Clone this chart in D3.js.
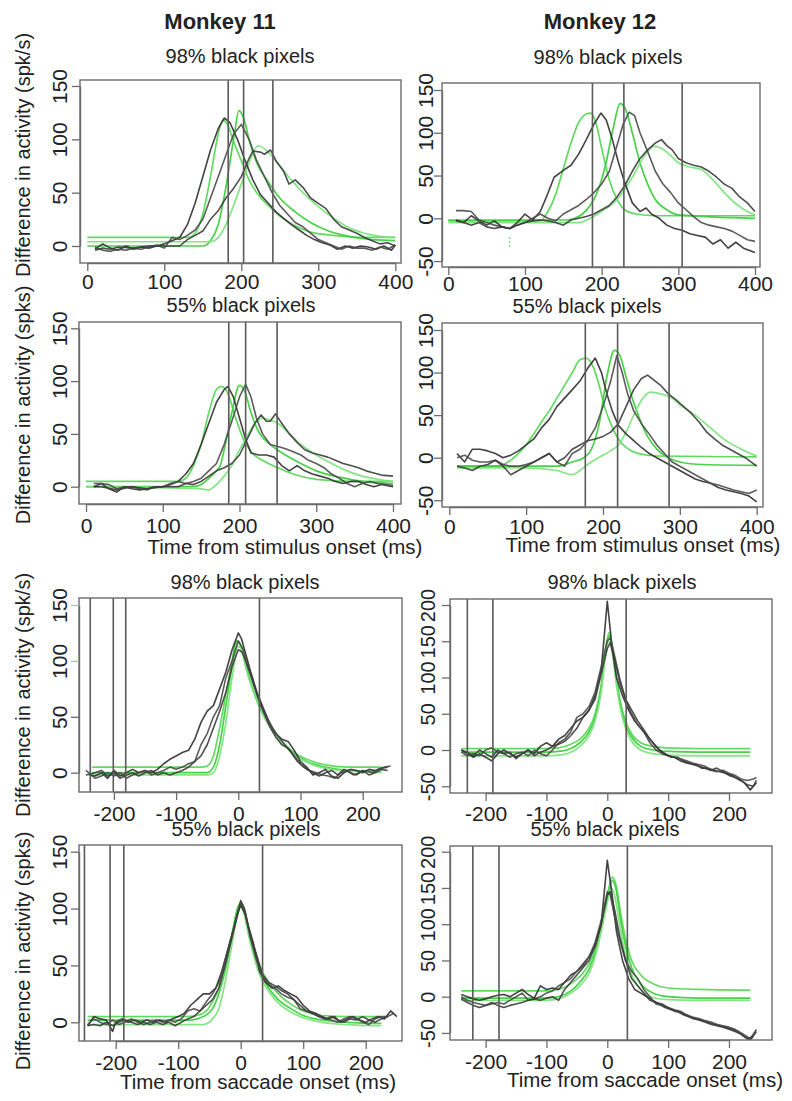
<!DOCTYPE html>
<html><head><meta charset="utf-8">
<script src="https://cdn.jsdelivr.net/npm/d3@7"></script>
<style>
html,body{margin:0;padding:0;background:#fff;}
svg{display:block;}
text{font-family:"Liberation Sans",Arial,Helvetica,sans-serif;fill:#222;}
</style></head>
<body>
<svg id="chart" width="792" height="1101"></svg>
<script>
// ---------- text / ticks ----------
const monkeyTitles = ["Monkey 11", "Monkey 12"];
const panelTitles = ["98% black pixels", "55% black pixels"];
const yLabels = ["Difference in activity (spk/s)", "Difference in activity (spks)"];
const xLabels = ["Time from stimulus onset (ms)", "Time from saccade onset (ms)"];
const xTicksStim = [0, 100, 200, 300, 400];
const xTicksSacc = [-200, -100, 0, 100, 200];
const yTicksM11 = [0, 50, 100, 150];
const yTicksM12Stim = [-50, 0, 50, 100, 150];
const yTicksM12Sacc = [-50, 0, 50, 100, 150, 200];

// ---------- vertical marker lines (ms) ----------
const vM11Stim98 = [183, 203, 241];
const vM12Stim98 = [188, 229, 305];
const vM11Stim55 = [186, 208, 249];
const vM12Stim55 = [177, 219, 286];
const vM11Sacc98 = [-238, -201, -181, 34];
const vM12Sacc98 = [-230, -188, 31];
const vM11Sacc55 = [-250, -209, -187, 35];
const vM12Sacc55 = [-221, -178, 33];

// ---------- Monkey 11, stimulus, 98% ----------
const m11Stim98Dark1 = [[10,-3],[20,2],[30,-2],[40,-4],[50,0],[60,-3],[70,-1],[80,-2],[90,0],[100,2],[110,5],[120,8],[130,20],[140,40],[150,65],[160,90],[170,110],[178,120],[185,116],[195,100],[205,80],[215,62],[225,48],[235,40],[245,32],[255,26],[265,20],[275,15],[285,10],[295,6],[305,3],[315,1],[325,-3],[335,0],[345,-2],[355,0],[365,-1],[375,-3],[385,0],[395,-4],[400,1]];
const m11Stim98Dark2 = [[10,-1],[20,-4],[30,-5],[40,-3],[50,-4],[60,-2],[70,-3],[80,-1],[90,1],[100,-2],[110,8],[120,6],[130,10],[140,15],[150,25],[160,45],[170,65],[180,85],[190,105],[200,114],[210,100],[220,80],[230,65],[240,50],[250,38],[260,30],[270,22],[280,18],[290,12],[300,6],[310,3],[320,0],[330,-3],[340,0],[350,-2],[360,-2],[370,-4],[380,-1],[390,-3],[400,1]];
const m11Stim98Dark3 = [[10,-4],[20,-2],[30,-3],[40,-1],[60,-2],[80,0],[100,0],[120,0],[130,6],[140,10],[150,14],[160,25],[170,33],[180,45],[190,54],[200,65],[210,82],[215,89],[225,88],[230,86],[238,90],[245,80],[255,70],[262,58],[270,62],[280,55],[290,45],[300,40],[310,35],[320,25],[330,18],[340,15],[350,12],[360,8],[370,5],[380,2],[390,3],[400,0]];
const m11Stim98Fit1 = [[0,8],[130,8],[140,12],[150,30],[160,65],[170,105],[176,118],[182,114],[190,98],[200,80],[210,62],[220,50],[235,38],[250,28],[270,19],[290,13],[320,10],[360,8],[400,8]];
const m11Stim98Fit2 = [[0,0],[150,0],[160,5],[170,20],[180,55],[190,100],[197,127],[203,120],[210,100],[220,78],[235,60],[250,45],[270,32],[290,22],[310,15],[340,9],[370,6],[400,5]];
const m11Stim98Fit3 = [[0,4],[160,4],[170,8],[180,20],[190,38],[200,58],[210,78],[222,94],[235,88],[250,75],[265,62],[280,50],[300,37],[320,26],[340,17],[360,12],[380,9],[400,8]];

// ---------- Monkey 12, stimulus, 98% ----------
const m12Stim98Dark1 = [[10,-2],[20,-5],[30,3],[40,-3],[50,-8],[60,-3],[70,-10],[80,-12],[90,-5],[100,5],[110,-2],[120,8],[128,25],[138,48],[150,56],[160,62],[170,75],[180,92],[190,110],[199,123],[206,115],[214,92],[222,65],[230,42],[240,18],[250,8],[258,12],[265,5],[275,0],[285,-8],[295,-12],[305,-14],[315,-18],[325,-20],[335,-22],[345,-30],[355,-25],[365,-35],[375,-28],[385,-35],[400,-40]];
const m12Stim98Dark2 = [[10,9],[20,9],[30,8],[40,-2],[50,-5],[60,-8],[70,-10],[80,-12],[90,-8],[100,-5],[110,0],[120,5],[130,0],[140,-3],[150,5],[160,10],[170,15],[180,22],[190,30],[200,40],[210,55],[220,85],[228,110],[236,124],[243,120],[250,100],[260,78],[270,55],[280,40],[290,30],[300,18],[310,10],[320,2],[330,-5],[340,-8],[350,-10],[360,-12],[370,-15],[380,-20],[390,-25],[400,-27]];
const m12Stim98Dark3 = [[10,-3],[20,-5],[30,-8],[40,-5],[50,-10],[60,-12],[70,-10],[80,-12],[90,-8],[100,-5],[110,-3],[120,-2],[130,-3],[140,-5],[150,-8],[160,-2],[170,0],[180,2],[190,5],[200,10],[210,15],[220,25],[230,38],[240,55],[250,70],[260,80],[270,88],[278,92],[285,85],[292,80],[300,70],[310,65],[320,62],[330,60],[340,55],[350,48],[360,40],[370,35],[380,25],[390,18],[400,8]];
const m12Stim98Fit1 = [[0,-3],[120,-3],[130,8],[140,28],[150,58],[160,88],[170,112],[180,122],[186,123],[193,110],[200,82],[210,45],[220,22],[230,10],[245,5],[270,3],[400,3]];
const m12Stim98Fit2 = [[0,-2],[155,-2],[165,0],[175,5],[185,15],[195,32],[205,62],[215,105],[224,134],[231,128],[240,100],[250,65],[260,40],[270,22],[285,10],[300,4],[400,0]];
const m12Stim98Fit3 = [[0,-5],[170,-5],[185,0],[200,8],[220,22],[240,48],[255,72],[268,84],[278,82],[288,75],[300,65],[315,60],[330,57],[345,45],[360,30],[375,17],[390,8],[400,4]];
const m12Stim98Stray = [[80,-22],[80,-35]];

// ---------- Monkey 11, stimulus, 55% ----------
const m11Stim55Dark1 = [[10,0],[20,3],[30,-2],[40,-5],[50,0],[60,-2],[70,-3],[80,-2],[90,0],[100,0],[110,2],[120,5],[130,12],[140,22],[150,40],[160,60],[170,80],[180,92],[185,95],[192,85],[200,65],[208,45],[215,32],[225,30],[235,30],[245,28],[255,20],[265,15],[275,20],[285,15],[295,12],[305,10],[315,8],[325,5],[335,3],[345,5],[355,5],[365,2],[375,0],[385,2],[400,0]];
const m11Stim55Dark2 = [[10,3],[20,3],[30,2],[40,-2],[50,0],[60,0],[70,-2],[80,-3],[90,0],[100,0],[110,3],[120,5],[130,3],[140,5],[150,8],[160,15],[170,22],[180,40],[190,62],[200,85],[208,97],[215,85],[222,65],[230,50],[240,40],[250,38],[260,36],[270,33],[280,30],[290,25],[300,22],[310,18],[320,12],[330,8],[340,3],[350,0],[360,3],[370,5],[380,3],[390,2],[400,1]];
const m11Stim55Dark3 = [[10,0],[20,0],[40,-3],[60,0],[80,-2],[100,0],[120,0],[130,3],[140,2],[150,5],[160,10],[170,15],[180,18],[190,22],[200,30],[210,45],[220,60],[228,68],[235,62],[240,62],[247,69],[255,60],[265,50],[275,42],[285,35],[295,32],[305,30],[315,28],[325,25],[335,22],[345,20],[355,18],[365,15],[375,13],[385,11],[400,10]];
const m11Stim55Fit1 = [[0,5],[120,5],[130,8],[140,20],[150,40],[160,70],[170,92],[177,95],[185,88],[195,65],[205,45],[215,33],[230,25],[250,18],[270,12],[300,7],[350,5],[400,5]];
const m11Stim55Fit2 = [[0,0],[140,0],[150,2],[160,8],[170,15],[175,20],[180,35],[190,70],[200,96],[207,90],[215,70],[225,52],[240,40],[260,30],[280,22],[300,15],[330,9],[360,5],[400,3]];
const m11Stim55Fit3 = [[0,0],[150,-2],[160,-3],[170,2],[180,10],[190,20],[200,35],[210,48],[220,60],[230,65],[240,63],[250,60],[265,50],[280,40],[300,30],[320,22],[340,15],[360,10],[380,7],[400,5]];

// ---------- Monkey 12, stimulus, 55% ----------
const m12Stim55Dark1 = [[10,5],[20,-5],[30,10],[40,10],[50,8],[60,5],[70,0],[80,3],[90,8],[100,15],[110,22],[120,35],[130,45],[140,60],[150,70],[160,80],[170,90],[180,105],[190,117],[198,100],[205,75],[212,55],[220,38],[230,28],[240,20],[250,12],[260,5],[270,0],[280,-5],[290,-10],[300,-15],[310,-20],[320,-25],[330,-28],[340,-30],[350,-35],[360,-38],[370,-40],[380,-42],[390,-45],[400,-52]];
const m12Stim55Dark2 = [[10,0],[20,3],[30,-3],[40,-5],[50,-5],[60,-3],[70,-8],[80,-10],[90,-10],[100,-8],[110,-5],[120,0],[130,5],[140,-5],[150,-10],[160,5],[170,10],[180,20],[190,35],[200,60],[210,90],[218,120],[225,100],[232,75],[240,55],[250,40],[260,28],[270,15],[280,5],[290,-5],[300,-10],[310,-15],[320,-20],[330,-25],[340,-30],[350,-32],[360,-35],[370,-38],[380,-40],[390,-42],[400,-38]];
const m12Stim55Dark3 = [[10,-10],[20,-12],[30,-15],[40,-10],[50,-8],[60,-3],[70,-10],[80,-20],[90,-15],[100,-10],[110,-5],[120,0],[130,5],[140,-5],[150,0],[160,10],[170,15],[180,20],[190,22],[200,25],[210,30],[220,40],[230,60],[240,80],[250,93],[258,97],[265,92],[275,85],[285,75],[295,68],[305,60],[315,52],[325,42],[335,30],[345,22],[355,15],[365,10],[375,5],[385,0],[400,-10]];
const m12Stim55Fit1 = [[10,-10],[60,-10],[70,-8],[80,-3],[90,5],[100,15],[110,28],[120,42],[130,55],[140,70],[150,85],[160,100],[170,115],[178,117],[188,105],[195,85],[202,60],[210,40],[220,22],[230,12],[245,5],[270,2],[400,1]];
const m12Stim55Fit2 = [[10,-10],[140,-10],[160,-5],[175,0],[185,10],[195,40],[205,95],[215,126],[222,120],[230,95],[238,70],[248,45],[258,25],[270,10],[285,0],[300,-5],[330,-8],[400,-9]];
const m12Stim55Fit3 = [[10,-12],[100,-12],[140,-15],[160,-20],[170,-15],[180,-8],[190,-2],[200,3],[210,8],[220,15],[230,30],[240,50],[252,70],[262,77],[275,75],[290,70],[300,62],[320,50],[340,35],[360,20],[380,10],[400,2]];

// ---------- Monkey 11, saccade, 98% ----------
const m11Sacc98Dark1 = [[-240,-2],[-230,-3],[-220,0],[-210,-5],[-200,2],[-190,-3],[-180,0],[-170,3],[-160,0],[-150,2],[-140,0],[-130,3],[-120,8],[-110,12],[-100,15],[-90,18],[-80,20],[-70,30],[-60,45],[-50,55],[-40,60],[-30,75],[-20,90],[-10,110],[0,125],[5,120],[10,110],[20,90],[30,72],[40,58],[50,45],[60,35],[70,30],[80,28],[90,20],[100,10],[110,5],[120,-2],[130,0],[140,3],[150,-3],[160,-5],[170,0],[180,3],[190,2],[200,0],[210,3],[220,2],[230,4],[240,5]];
const m11Sacc98Dark2 = [[-245,2],[-230,-5],[-220,-3],[-210,0],[-200,-3],[-190,0],[-180,-5],[-170,-2],[-160,0],[-150,2],[-140,-2],[-130,0],[-120,2],[-110,5],[-100,3],[-90,5],[-80,8],[-70,10],[-60,25],[-50,35],[-40,50],[-30,60],[-20,85],[-10,100],[0,118],[8,110],[15,95],[25,78],[35,62],[45,50],[55,40],[65,32],[75,25],[85,18],[95,10],[105,5],[115,2],[125,0],[135,-2],[145,-3],[155,-5],[165,0],[175,2],[185,-2],[195,0],[205,2],[215,0],[225,3],[235,5],[245,6]];
const m11Sacc98Dark3 = [[-245,-2],[-230,0],[-220,2],[-210,-3],[-200,0],[-190,-5],[-180,-2],[-170,0],[-160,-3],[-150,0],[-140,2],[-130,-2],[-120,0],[-110,-2],[-100,0],[-90,2],[-80,5],[-70,10],[-60,15],[-50,25],[-40,40],[-30,55],[-20,72],[-10,95],[0,110],[6,108],[12,100],[20,88],[30,70],[40,55],[50,42],[60,32],[70,25],[80,22],[90,15],[100,8],[110,3],[120,0],[130,-3],[140,0],[150,2],[160,-2],[170,3],[180,0],[190,-2],[200,2],[210,-2],[220,0],[230,3],[240,2]];
const m11Sacc98Fit1 = [[-235,5],[-60,5],[-50,6],[-40,15],[-30,40],[-20,70],[-10,100],[-5,115],[0,117],[5,112],[15,90],[25,72],[40,52],[55,38],[70,28],[90,18],[110,12],[140,7],[180,5],[230,5]];
const m11Sacc98Fit2 = [[-235,0],[-50,0],[-40,5],[-30,25],[-20,60],[-10,95],[-3,118],[3,115],[12,95],[25,72],[40,52],[55,38],[70,27],[90,17],[110,10],[140,5],[180,2],[230,1]];
const m11Sacc98Fit3 = [[-235,-2],[-50,-2],[-40,0],[-30,15],[-20,45],[-10,85],[0,113],[5,110],[15,88],[28,68],[42,50],[58,35],[75,24],[95,14],[120,7],[150,3],[190,1],[230,0]];

// ---------- Monkey 12, saccade, 98% ----------
const m12Sacc98Dark1 = [[-240,0],[-230,-5],[-220,-10],[-210,-5],[-200,-10],[-190,-15],[-180,-5],[-170,0],[-160,-5],[-150,-10],[-140,-5],[-130,0],[-120,-5],[-110,5],[-100,10],[-90,5],[-80,15],[-70,20],[-60,30],[-50,40],[-40,45],[-30,55],[-20,75],[-10,110],[0,205],[8,140],[15,100],[25,75],[35,55],[45,40],[55,30],[65,20],[75,10],[85,0],[95,-5],[105,-10],[115,-10],[125,-15],[135,-18],[145,-20],[155,-25],[165,-25],[175,-28],[185,-30],[195,-32],[205,-35],[215,-40],[225,-45],[235,-55],[245,-45]];
const m12Sacc98Dark2 = [[-240,-3],[-230,-8],[-220,-5],[-210,-8],[-200,0],[-190,3],[-180,-3],[-170,-5],[-160,-10],[-150,-5],[-140,-3],[-130,-8],[-120,0],[-110,-5],[-100,-8],[-90,0],[-80,10],[-70,15],[-60,25],[-50,45],[-40,50],[-30,60],[-20,80],[-10,115],[0,150],[5,155],[12,130],[20,100],[30,70],[40,50],[50,35],[60,25],[70,10],[80,0],[90,-5],[100,-8],[110,-10],[120,-12],[130,-15],[140,-18],[150,-20],[160,-22],[170,-28],[180,-30],[190,-28],[200,-32],[210,-35],[220,-40],[230,-42],[240,-40],[245,-38]];
const m12Sacc98Dark3 = [[-240,0],[-230,-3],[-220,-8],[-210,0],[-200,-5],[-190,-10],[-180,0],[-170,-5],[-160,-3],[-150,-12],[-140,-5],[-130,0],[-120,-8],[-110,-3],[-100,0],[-90,5],[-80,8],[-70,12],[-60,20],[-50,30],[-40,45],[-30,55],[-20,70],[-10,105],[0,140],[5,148],[12,125],[20,95],[30,70],[40,55],[50,40],[60,28],[70,15],[80,5],[90,-3],[100,-8],[110,-10],[120,-15],[130,-18],[140,-20],[150,-22],[160,-25],[170,-28],[180,-25],[190,-30],[200,-35],[210,-38],[220,-42],[230,-48],[240,-50],[245,-42]];
const m12Sacc98Fit1 = [[-240,2],[-100,2],[-80,3],[-60,8],[-45,15],[-30,30],[-20,50],[-10,90],[-3,140],[3,162],[8,145],[15,100],[22,65],[30,40],[40,22],[55,10],[75,5],[100,3],[150,2],[235,2]];
const m12Sacc98Fit2 = [[-240,-3],[-100,-3],[-80,-2],[-60,2],[-45,10],[-30,25],[-20,45],[-10,85],[-3,135],[3,158],[8,140],[15,95],[22,60],[30,35],[40,18],[55,5],[75,0],[100,-2],[150,-3],[235,-3]];
const m12Sacc98Fit3 = [[-240,-8],[-100,-8],[-80,-7],[-60,-3],[-45,5],[-30,20],[-20,40],[-10,80],[-3,130],[3,150],[8,135],[15,90],[22,55],[30,30],[40,12],[55,0],[75,-5],[100,-7],[150,-8],[235,-8]];

// ---------- Monkey 11, saccade, 55% ----------
const m11Sacc55Dark1 = [[-245,-3],[-235,5],[-225,3],[-215,2],[-205,-8],[-200,0],[-190,3],[-180,0],[-170,2],[-160,0],[-150,2],[-140,0],[-130,2],[-120,0],[-110,3],[-100,5],[-90,8],[-80,15],[-70,20],[-60,25],[-50,25],[-40,30],[-30,45],[-20,65],[-10,85],[0,107],[6,100],[12,85],[20,70],[30,45],[40,35],[50,30],[60,32],[70,28],[80,25],[90,22],[100,15],[110,10],[120,8],[130,5],[140,3],[150,5],[160,0],[170,3],[180,5],[190,2],[200,0],[210,3],[220,5],[230,3],[240,10],[250,5]];
const m11Sacc55Dark2 = [[-245,-2],[-235,3],[-225,0],[-215,-2],[-205,2],[-195,-2],[-185,0],[-175,3],[-165,0],[-155,-2],[-145,0],[-135,2],[-125,0],[-115,2],[-105,0],[-95,3],[-85,10],[-75,12],[-65,10],[-55,18],[-45,25],[-35,35],[-25,55],[-15,75],[-5,95],[0,105],[8,95],[15,75],[25,55],[35,40],[45,33],[55,30],[65,25],[75,22],[85,20],[95,12],[105,10],[115,8],[125,5],[135,3],[145,2],[155,0],[165,3],[175,5],[185,3],[195,0],[205,-2],[215,3],[225,5],[235,5],[245,8]];
const m11Sacc55Dark3 = [[-245,-3],[-235,-2],[-225,-3],[-215,0],[-205,-3],[-195,0],[-185,2],[-175,0],[-165,-2],[-155,0],[-145,-2],[-135,0],[-125,-2],[-115,0],[-105,-3],[-95,0],[-85,3],[-75,5],[-65,10],[-55,15],[-45,20],[-35,30],[-25,50],[-15,72],[-5,95],[0,103],[7,95],[15,78],[25,60],[35,42],[45,35],[55,32],[65,28],[75,25],[85,20],[95,15],[105,10],[115,8],[125,5],[135,3],[145,5],[155,2],[165,0],[175,3],[185,2],[195,5],[205,2],[215,0],[225,3],[235,5]];
const m11Sacc55Fit1 = [[-245,5],[-90,5],[-70,6],[-55,10],[-45,18],[-35,30],[-25,50],[-15,75],[-5,100],[0,104],[5,100],[12,85],[20,68],[30,50],[45,35],[60,25],[80,16],[100,10],[130,6],[170,5],[225,5]];
const m11Sacc55Fit2 = [[-245,2],[-80,2],[-60,5],[-45,12],[-35,25],[-25,45],[-15,72],[-5,100],[0,105],[5,98],[12,80],[20,62],[30,45],[45,30],[60,20],[80,12],[100,6],[130,2],[170,0],[225,-1]];
const m11Sacc55Fit3 = [[-245,-2],[-60,-2],[-45,3],[-35,12],[-25,35],[-15,65],[-5,95],[0,103],[5,96],[12,78],[20,60],[30,42],[45,27],[60,17],[80,9],[100,4],[130,0],[170,-2],[225,-3]];

// ---------- Monkey 12, saccade, 55% ----------
const m12Sacc55Dark1 = [[-240,3],[-230,0],[-220,-3],[-210,-5],[-200,-3],[-190,0],[-180,2],[-170,3],[-160,0],[-150,5],[-140,10],[-130,3],[-120,-2],[-110,15],[-100,10],[-90,12],[-80,10],[-70,20],[-60,30],[-50,35],[-40,45],[-30,55],[-20,70],[-10,100],[0,188],[8,140],[15,90],[25,50],[35,25],[45,10],[55,5],[65,0],[75,-5],[85,-10],[95,-15],[105,-18],[115,-20],[125,-25],[135,-28],[145,-30],[155,-32],[165,-35],[175,-38],[185,-40],[195,-42],[205,-45],[215,-48],[225,-55],[235,-60],[245,-48]];
const m12Sacc55Dark2 = [[-240,0],[-230,-5],[-220,-8],[-210,-10],[-200,-12],[-190,-10],[-180,-8],[-170,-10],[-160,-5],[-150,0],[-140,5],[-130,-5],[-120,-3],[-110,0],[-100,5],[-90,8],[-80,15],[-70,20],[-60,25],[-50,35],[-40,42],[-30,55],[-20,75],[-10,105],[0,145],[5,140],[12,110],[20,80],[30,50],[40,35],[50,25],[60,10],[70,0],[80,-10],[90,-12],[100,-15],[110,-20],[120,-22],[130,-25],[140,-28],[150,-30],[160,-33],[170,-35],[180,-38],[190,-40],[200,-42],[210,-45],[220,-50],[230,-55],[235,-58],[245,-45]];
const m12Sacc55Dark3 = [[-240,-3],[-230,-8],[-220,-12],[-210,-15],[-200,-12],[-190,-8],[-180,-12],[-170,-15],[-160,-12],[-150,-10],[-140,-8],[-130,-5],[-120,-3],[-110,-5],[-100,-2],[-90,0],[-80,-5],[-70,10],[-60,20],[-50,30],[-40,40],[-30,50],[-20,70],[-10,100],[0,140],[5,145],[12,120],[20,85],[30,50],[40,25],[50,15],[60,5],[70,-5],[80,-8],[90,-10],[100,-15],[110,-18],[120,-20],[130,-25],[140,-30],[150,-32],[160,-35],[170,-38],[180,-40],[190,-42],[200,-45],[210,-48],[220,-52],[230,-58],[240,-55]];
const m12Sacc55Fit1 = [[-240,8],[-100,8],[-80,10],[-60,18],[-45,28],[-30,45],[-20,65],[-10,100],[0,140],[8,165],[14,155],[22,115],[30,80],[40,50],[55,30],[75,18],[100,12],[150,10],[235,9]];
const m12Sacc55Fit2 = [[-240,-2],[-100,-2],[-80,0],[-60,8],[-45,20],[-30,38],[-20,60],[-10,95],[0,135],[8,160],[14,150],[22,105],[30,70],[40,40],[55,18],[75,5],[100,0],[150,-2],[235,-2]];
const m12Sacc55Fit3 = [[-240,-5],[-100,-5],[-80,-3],[-60,5],[-45,15],[-30,32],[-20,55],[-10,90],[0,130],[6,150],[12,140],[20,100],[28,65],[38,35],[50,15],[70,0],[100,-4],[150,-5],[235,-5]];

// ---------- layout (pixel geometry of each panel) ----------
const panels = [
  {box:[80,80,401,263],  xr:[0,87.3,400,395.3], yr:[0,246,150,86],   xt:xTicksStim, yt:yTicksM11,     v:vM11Stim98, dark:[m11Stim98Dark1,m11Stim98Dark2,m11Stim98Dark3], fit:[m11Stim98Fit1,m11Stim98Fit2,m11Stim98Fit3], title:panelTitles[0], tx:240, ty:63, xlY:289, ylX:67, yfs:21},
  {box:[442,83,760,267], xr:[0,448.3,400,755],  yr:[0,218.3,150,90], xt:xTicksStim, yt:yTicksM12Stim, v:vM12Stim98, dark:[m12Stim98Dark1,m12Stim98Dark2,m12Stim98Dark3], fit:[m12Stim98Fit1,m12Stim98Fit2,m12Stim98Fit3], title:panelTitles[0], tx:608, ty:64, xlY:291, ylX:433, yfs:21, stray:m12Stim98Stray},
  {box:[79,322,401,504], xr:[0,86,400,393],     yr:[0,486.7,150,328.3], xt:xTicksStim, yt:yTicksM11,   v:vM11Stim55, dark:[m11Stim55Dark1,m11Stim55Dark2,m11Stim55Dark3], fit:[m11Stim55Fit1,m11Stim55Fit2,m11Stim55Fit3], title:panelTitles[1], tx:241, ty:312, xlY:533, ylX:67, yfs:21, xlab:xLabels[0], xlabX:285, xlabY:554},
  {box:[442,323,763,507],xr:[0,449.3,400,756.7],yr:[0,457.7,150,330], xt:xTicksStim, yt:yTicksM12Stim, v:vM12Stim55, dark:[m12Stim55Dark1,m12Stim55Dark2,m12Stim55Dark3], fit:[m12Stim55Fit1,m12Stim55Fit2,m12Stim55Fit3], title:panelTitles[1], tx:587, ty:313, xlY:534, ylX:433, yfs:21, xlab:xLabels[0], xlabX:643, xlabY:552},
  {box:[79,598,402,792], xr:[0,238.3,200,362.7],yr:[0,772.7,150,605], xt:xTicksSacc, yt:yTicksM11,     v:vM11Sacc98, dark:[m11Sacc98Dark1,m11Sacc98Dark2,m11Sacc98Dark3], fit:[m11Sacc98Fit1,m11Sacc98Fit2,m11Sacc98Fit3], title:panelTitles[0], tx:245, ty:589, xlY:821, ylX:67, yfs:21, greenTicks:[100,150]},
  {box:[450,599,772,793],xr:[0,607.3,200,729],  yr:[0,750,200,605],   xt:xTicksSacc, yt:yTicksM12Sacc, v:vM12Sacc98, dark:[m12Sacc98Dark1,m12Sacc98Dark2,m12Sacc98Dark3], fit:[m12Sacc98Fit1,m12Sacc98Fit2,m12Sacc98Fit3], title:panelTitles[0], tx:622, ty:589, xlY:821, ylX:435, yfs:20},
  {box:[79,845,402,1041],xr:[0,240.7,200,365.7],yr:[0,1022.3,150,851.7], xt:xTicksSacc, yt:yTicksM11,  v:vM11Sacc55, dark:[m11Sacc55Dark1,m11Sacc55Dark2,m11Sacc55Dark3], fit:[m11Sacc55Fit1,m11Sacc55Fit2,m11Sacc55Fit3], title:panelTitles[1], tx:246, ty:836, xlY:1070, ylX:67, yfs:21, xlab:xLabels[1], xlabX:258, xlabY:1089},
  {box:[450,846,772,1040],xr:[0,607.3,200,729], yr:[0,996.7,200,851.7], xt:xTicksSacc, yt:yTicksM12Sacc, v:vM12Sacc55, dark:[m12Sacc55Dark1,m12Sacc55Dark2,m12Sacc55Dark3], fit:[m12Sacc55Fit1,m12Sacc55Fit2,m12Sacc55Fit3], title:panelTitles[1], tx:605, ty:836, xlY:1069, ylX:435, yfs:20, xlab:xLabels[1], xlabX:645, xlabY:1087}
];

const svg = d3.select("#chart");
const darkColors = ["#2f2f2f", "#4a4a4a", "#3c3c3c"];
const fitColors = ["#5ad85a", "#3fcf3f", "#7ee47e"];
const frameColor = "#6b6b6b";
const fmt = d => String(d);   // R style hyphen-minus

panels.forEach((p, i) => {
  const [L, T, R, B] = p.box;
  const xs0 = d3.scaleLinear().domain([p.xr[0], p.xr[2]]).range([p.xr[1], p.xr[3]]);
  const ys0 = d3.scaleLinear().domain([p.yr[0], p.yr[2]]).range([p.yr[1], p.yr[3]]);
  const xExt = d3.extent(p.xt), yExt = d3.extent(p.yt);
  const x = d3.scaleLinear().domain(xExt).range(xExt.map(xs0));
  const y = d3.scaleLinear().domain(yExt).range(yExt.map(ys0));

  const g = svg.append("g");
  const clipId = "clip" + i;
  svg.append("clipPath").attr("id", clipId).append("rect")
    .attr("x", L).attr("y", T).attr("width", R - L).attr("height", B - T);

  const plot = g.append("g").attr("clip-path", `url(#${clipId})`);

  // fitted curves (green)
  const fitLine = d3.line().x(d => x(d[0])).y(d => y(d[1])).curve(d3.curveMonotoneX);
  p.fit.forEach((s, k) => {
    plot.append("path").attr("d", fitLine(s)).attr("fill", "none")
      .attr("stroke", fitColors[k]).attr("stroke-width", 1.7).attr("stroke-opacity", 0.95);
  });
  if (p.stray) {
    plot.append("path").attr("d", d3.line().x(d => x(d[0])).y(d => y(d[1]))(p.stray))
      .attr("stroke", "#8fe08f").attr("stroke-width", 1.5).attr("stroke-dasharray", "2,2").attr("fill", "none");
  }
  // data curves (dark)
  const dataLine = d3.line().x(d => x(d[0])).y(d => y(d[1]));
  p.dark.forEach((s, k) => {
    plot.append("path").attr("d", dataLine(s)).attr("fill", "none")
      .attr("stroke", darkColors[k]).attr("stroke-width", 1.6).attr("stroke-linejoin", "round").attr("stroke-opacity", 0.9);
  });

  // vertical marker lines
  g.selectAll(null).data(p.v).enter().append("line")
    .attr("x1", d => x(d)).attr("x2", d => x(d)).attr("y1", T).attr("y2", B)
    .attr("stroke", "#5a5a5a").attr("stroke-width", 1.6);

  // frame
  g.append("rect").attr("x", L).attr("y", T).attr("width", R - L).attr("height", B - T)
    .attr("fill", "none").attr("stroke", frameColor).attr("stroke-width", 1.4);

  // x axis
  const gx = g.append("g").attr("transform", `translate(0,${B})`)
    .call(d3.axisBottom(x).tickValues(p.xt).tickSize(8).tickSizeOuter(0).tickFormat(fmt));
  gx.select(".domain").attr("stroke", frameColor).attr("stroke-width", 1.4);
  gx.selectAll(".tick line").attr("stroke", frameColor).attr("stroke-width", 1.3);
  gx.selectAll(".tick text").attr("y", p.xlY - B).attr("dy", 0)
    .style("font-family", '"Liberation Sans", Arial, sans-serif').style("font-size", "21px").attr("fill", "#222");

  // y axis (labels parallel to axis, like R)
  const gy = g.append("g").attr("transform", `translate(${L},0)`)
    .call(d3.axisLeft(y).tickValues(p.yt).tickSize(8).tickSizeOuter(0).tickFormat(fmt));
  gy.select(".domain").attr("stroke", frameColor).attr("stroke-width", 1.4);
  gy.selectAll(".tick line").attr("stroke", d => (p.greenTicks && p.greenTicks.includes(d)) ? "#7ee07e" : frameColor).attr("stroke-width", 1.3);
  gy.selectAll(".tick text").attr("transform", "rotate(-90)").attr("x", 0).attr("y", p.ylX - L).attr("dy", 0)
    .attr("text-anchor", "middle")
    .style("font-family", '"Liberation Sans", Arial, sans-serif').style("font-size", p.yfs + "px").attr("fill", "#222");

  // panel title
  g.append("text").attr("x", p.tx).attr("y", p.ty).attr("text-anchor", "middle")
    .style("font-size", "20px").text(p.title);

  if (p.xlab) {
    g.append("text").attr("x", p.xlabX).attr("y", p.xlabY).attr("text-anchor", "middle")
      .style("font-size", "20.5px").text(p.xlab);
  }
});

// y-axis titles (left column)
const yTitleCenters = [155, 405, 695, 951];
yTitleCenters.forEach((cy, i) => {
  svg.append("text").attr("transform", `translate(29.5,${cy}) rotate(-90)`)
    .attr("text-anchor", "middle").style("font-size", "20px")
    .text(yLabels[i % 2]);
});

// monkey titles
svg.append("text").attr("x", 220).attr("y", 29).attr("text-anchor", "middle")
  .style("font-size", "22px").style("font-weight", "bold").attr("fill", "#111").text(monkeyTitles[0]);
svg.append("text").attr("x", 600).attr("y", 29).attr("text-anchor", "middle")
  .style("font-size", "22px").style("font-weight", "bold").attr("fill", "#111").text(monkeyTitles[1]);
</script>
</body></html>
